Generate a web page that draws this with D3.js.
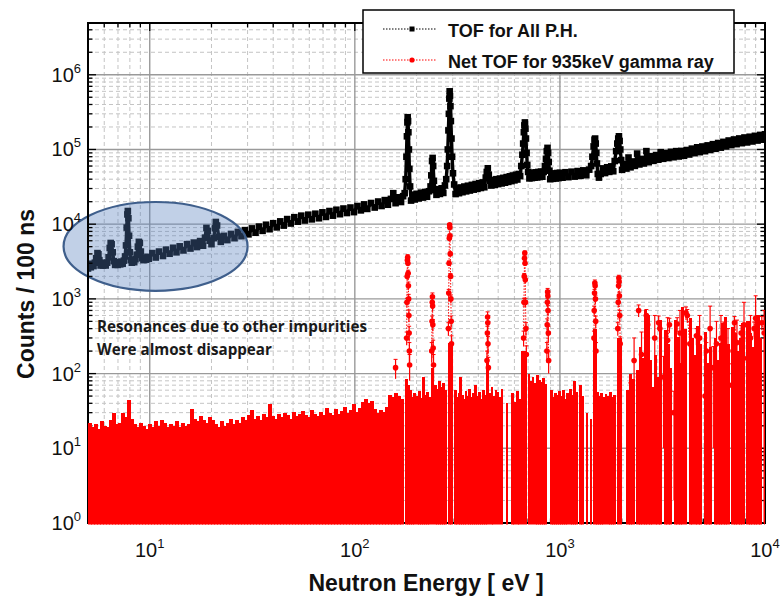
<!DOCTYPE html>
<html>
<head>
<meta charset="utf-8">
<script src="https://cdn.jsdelivr.net/npm/d3@7"></script>
<style>
  body { margin: 0; background: #fff; }
  svg { display: block; }
</style>
</head>
<body>
<svg id="chart" width="780" height="597"></svg>
<script>
// ---- Data -------------------------------------------------------------
// TOF spectrum for all pulse heights: [neutron energy (eV), counts / 100 ns]
const tofAll = [
  [5.0,2550],[5.08,2850],[5.16,2650],[5.24,2950],[5.32,2750],[5.4,3050],[5.48,3500],[5.56,4100],[5.62,3950],[5.68,3300],
  [5.76,2800],[5.84,3050],[5.92,2800],[6.0,3000],[6.1,2800],[6.2,3050],[6.3,3600],[6.38,4800],[6.45,5600],[6.52,5400],
  [6.6,4200],[6.68,3200],[6.78,2850],[6.88,3100],[6.98,2850],[7.08,3100],[7.18,2900],[7.28,3150],[7.38,2950],[7.48,3250],
  [7.58,3700],[7.66,5200],[7.72,9000],[7.78,13500],[7.82,15000],[7.87,12000],[7.93,7000],[8.0,4200],[8.08,3300],[8.18,3050],
  [8.28,3300],[8.4,3100],[8.52,3400],[8.64,3900],[8.75,5000],[8.85,5800],[8.95,5600],[9.05,4300],[9.18,3500],[9.32,3300],
  [9.46,3550],[9.6,3350],[9.75,3650],[9.9,3450],
  [10.3,4100],[10.7,3580],[11.1,4300],[11.6,3750],[12.0,4560],[12.5,4020],[13.0,4830],[13.5,4200],[14.0,5050],[14.6,4450],
  [15.2,5400],[15.8,4720],[16.4,5670],[17.0,4940],[17.6,5940],[18.2,5150],[18.6,6600],[18.9,8900],[19.2,8100],[19.6,6000],
  [20.0,5400],[20.5,6500],[20.8,8800],[21.0,10700],[21.3,9600],[21.7,6800],[22.2,5800],[23.0,6980],[23.9,6120],[24.9,7400],
  [25.9,6490],[26.9,7880],[28.0,6900],[29.1,8320],[30.3,7310],[31.5,8780],[32.8,7680],[34.1,9290],[35.5,8140],[36.9,9830],
  [38.4,8560],[40.0,10300],[41.6,9060],[43.3,10900],[45.0,9570],[46.8,11700],[48.7,10200],[50.7,12400],[52.7,10800],[54.8,13000],
  [57.0,11200],[59.3,13400],[61.7,11600],[64.2,13800],[66.8,12000],[69.5,14400],[72.3,12500],[75.2,15000],[78.2,13000],[81.3,15600],
  [84.6,13600],[88.0,16200],[91.5,14100],[95.2,16700],[99.0,14500],
  [103,17500],[107,15300],[111,18400],[115,16000],[120,19200],[125,16700],[130,20100],[135,17500],[140,21000],[145,18200],
  [150,21800],[154,26000],[158,19100],[163,22900],[168,19800],[172,23700],[175,26000],[177,40000],[178.5,80000],[179.5,150000],
  [180.5,230000],[181,270000],[181.8,240000],[182.5,170000],[183.5,100000],[184.5,55000],[186,32000],[188,20700],[192,24800],[196,21400],
  [200,25500],[205,22100],[210,26400],[215,22700],[220,27000],[225,23300],[230,27600],[234,32000],[236,45000],[238,70000],
  [239.5,77000],[241,60000],[243,38000],[246,28600],[250,24700],[255,29400],[260,25400],[265,30200],[270,26200],[275,33000],
  [279,40000],[282,60000],[284,100000],[286,180000],[287.5,300000],[289,480000],[290,600000],[291,520000],[292.5,380000],[294,240000],
  [296,140000],[298,80000],[301,48000],[305,34000],[310,25300],[316,30100],[322,26000],[328,31000],[335,26800],[342,31900],
  [349,27500],[356,32700],[364,28200],[372,33600],[380,29000],[388,34500],[396,29700],[404,35300],[412,30500],[420,36200],
  [428,31200],[435,42000],[440,50000],[445,56000],[450,46000],[455,38200],[463,32900],[472,39100],[481,33700],[490,40000],
  [500,34400],[510,40800],[520,35100],[530,41700],[540,35900],[550,42700],[560,36800],[570,43700],[580,37700],[590,44800],
  [600,38600],[610,45900],[620,39600],[630,47000],[640,44000],[648,60000],[656,85000],[662,120000],[667,170000],[671,210000],
  [675,230000],[679,190000],[683,140000],[688,90000],[693,62000],[700,50000],[710,41000],[720,48300],[730,41400],[741,48800],
  [752,41900],[763,49400],[774,42300],[785,50000],[797,42800],[809,50500],[821,43200],[833,50000],[845,60000],[855,75000],
  [863,95000],[870,105000],[876,90000],[882,68000],[889,52000],[897,40000],[910,47300],[925,40500],[940,47800],[955,40900],
  [970,48400],[985,41400],[1000,48800],
  [1030,41900],[1065,49600],[1100,42600],[1140,50400],[1180,43300],[1220,51400],[1260,44300],[1300,52500],[1345,45200],[1390,53700],
  [1420,60000],[1440,80000],[1460,110000],[1475,135000],[1485,140000],[1495,120000],[1505,90000],[1515,65000],[1530,47000],[1550,42000],
  [1580,47000],[1620,55800],[1660,48300],[1700,57800],[1740,50100],[1780,59400],[1820,51100],[1850,70000],[1880,95000],[1905,120000],
  [1925,140000],[1940,150000],[1955,130000],[1970,100000],[1990,72000],[2010,53400],[2060,63700],[2110,55500],[2160,78000],[2210,57700],
  [2260,69100],[2320,60300],[2380,88000],[2440,63000],[2500,74700],[2570,64900],[2640,95000],[2710,67600],[2780,81000],[2860,70400],
  [2940,84200],[3020,73000],[3100,92000],[3190,75000],[3280,89100],[3380,76800],[3480,93000],[3580,78700],[3690,95000],[3800,80500],
  [3910,95600],[4030,82300],[4150,98300],[4270,85600],[4400,102600],[4530,89200],[4670,106900],[4810,92000],[4950,109600],[5100,94800],
  [5250,113400],[5410,98400],[5570,117700],[5740,102100],[5910,122000],[6090,105800],[6270,126400],[6460,109900],[6650,131800],[6850,114500],
  [7060,136100],[7270,117800],[7490,140400],[7710,121400],[7940,144700],[8180,124200],[8420,148000],[8670,127900],[8930,152300],[9200,131600],
  [9480,156600],[9760,135200],[10000,159800]
];

// Net TOF for the 935 keV gamma ray, dense part: [bin start energy (eV), upper error edge]
// (0 = no positive content in that bin)
const netFill = [
  [5.0,22],[5.17,19],[5.35,21],[5.53,18],[5.72,23],[5.92,20],[6.12,19],[6.33,24],[6.55,30],[6.77,21],
  [7.0,22],[7.24,30],[7.49,26],[7.75,44],[8.01,25],[8.29,21],[8.57,19],[8.87,22],[9.17,20],[9.49,18],[9.81,21],
  [10.15,19],[10.5,23],[10.86,20],[11.23,24],[11.61,22],[12.01,19],[12.42,21],[12.85,20],[13.29,23],[13.74,19],
  [14.21,22],[14.7,20],[15.2,21],[15.72,34],[16.26,25],[16.82,23],[17.4,27],[18.0,24],[18.6,22],[19.25,26],[19.9,24],
  [20.6,21],[21.3,19],[22.0,23],[22.8,20],[23.6,22],[24.4,25],[25.2,21],[26.1,24],[27.0,22],[27.9,26],
  [28.9,24],[29.9,28],[30.9,33],[31.9,25],[33.0,27],[34.2,24],[35.3,29],[36.5,26],[37.8,39],[39.1,27],
  [40.4,25],[41.8,29],[43.3,26],[44.7,30],[46.3,28],[47.9,25],[49.5,31],[51.2,27],[53.0,29],[54.8,32],
  [56.6,28],[58.6,26],[60.6,33],[62.7,29],[64.8,27],[67.0,31],[69.3,28],[71.7,35],[74.2,30],[76.7,28],[79.3,34],
  [82.0,29],[84.8,32],[87.7,36],[90.8,30],[93.9,33],[97.1,39],[100.4,31],[103.8,35],[107.4,42],[111.1,45],
  [114.9,40],[118.8,43],[122.9,34],[127.1,30],[131.4,33],[135.9,31],[140.6,36],[145.4,52],[150.4,48],[155.5,55],
  [160.8,50],[166.3,46],[172.0,0],
  [176,85],[180,70],[184,60],[188,48],[193,55],[198,50],[203,58],[208,47],[213,90],[218,52],
  [223,56],[228,49],[233,0],[236,120],[242,70],[248,62],[254,80],[260,66],[266,75],[272,60],
  [280,0],[284,260],[292,240],[299,0],[305,60],[311,48],[317,55],[323,90],[330,52],[337,45],
  [344,58],[351,50],[358,62],[366,48],[374,55],[382,70],[390,50],[399,57],[408,46],[417,60],
  [427,52],[437,150],[449,55],[459,66],[469,50],[480,60],[491,56],[502,48],[514,62],[526,0],
  [548,40],[553,0],[580,55],[592,42],[605,0],[612,58],[625,45],[640,0],[648,200],[686,0],
  [697,100],[712,80],[728,90],[745,75],[762,95],[780,82],[798,78],[816,88],[836,72],[855,0],
  [892,60],[912,48],[933,55],[955,52],[977,58],[1000,50],[1023,60],[1047,46],[1071,55],[1096,0],
  [1110,62],[1136,52],[1162,80],[1190,56],[1218,0],[1240,70],[1270,50],[1300,0],[1340,30],[1360,0],
  [1400,25],[1420,0],[1450,400],[1505,57],[1540,50],[1576,55],[1613,48],[1650,53],[1690,50],[1730,56],
  [1770,49],[1810,52],[1850,0],[1900,300],[1990,0],
  [2047,0],[2105,60],[2165,100],[2227,85],[2290,0],[2355,110],[2422,225],[2491,160],[2562,700],[2635,600],
  [2710,150],[2787,66],[2866,180],[2948,90],[3032,520],[3118,0],[3207,380],[3298,250],[3392,120],[3489,0],
  [3588,520],[3690,310],[3795,140],[3903,780],[4014,400],[4129,0],[4246,560],[4367,300],[4491,180],[4619,430],
  [4751,250],[4886,0],[5025,360],[5168,140],[5315,225],[5467,0],[5622,300],[5782,150],[5947,260],[6116,470],
  [6291,570],[6470,250],[6654,0],[6843,420],[7038,350],[7239,200],[7445,300],[7657,480],[7875,0],[8099,500],
  [8330,350],[8567,230],[8811,420],[9062,600],[9320,300],[9585,0],[9858,520],[10000,0]
];

// Net TOF, individual points with error bars: [energy (eV), counts, error]
const netPoints = [
  [158,120,35],
  [179,300,60],[179.5,900,120],[180,2000,200],[180.5,3300,300],[181,3600,300],[181.5,3000,250],[182,2200,220],
  [182.5,1500,180],[183,1000,150],[183.5,600,110],[184,350,80],[184.5,200,60],[185,130,50],
  [237,200,60],[238,500,90],[238.5,900,120],[239,1070,130],[239.5,800,110],[240,450,80],[241,220,60],[242,130,50],
  [286,400,80],[287,1200,140],[288,3000,220],[289,6500,320],[290,9800,400],[290.5,9000,380],[291,7000,340],
  [292,4000,250],[293,2000,180],[294,1000,130],[295,500,90],[296,250,70],
  [441,150,50],[443,350,80],[444,570,100],[445,480,90],[446,250,65],[448,120,45],
  [665,300,70],[668,900,120],[670,2000,190],[672,3500,250],[674,4100,280],[676,3000,240],[678,1800,180],
  [680,900,120],[683,400,80],[686,180,55],
  [864,200,60],[867,450,90],[869,900,120],[871,1240,140],[873,1100,130],[875,700,110],[878,350,80],[881,150,50],
  [1465,300,70],[1470,700,100],[1475,1200,140],[1480,1630,160],[1485,1500,150],[1490,1000,120],[1495,500,90],[1500,200,60],
  [1760,20,15],
  [1915,400,80],[1925,900,120],[1932,1500,150],[1938,1900,170],[1944,1700,160],[1950,1100,130],[1958,600,100],[1968,250,60],
  [2200,40,35],[2300,150,150],[2420,700,130],[2500,180,180],[2600,60,50],[2640,600,120],[2680,450,100],[2900,300,300],
  [3030,480,110],[3070,400,100],[3200,90,80],[3350,280,280],[3420,450,100],[3600,30,28],[3730,460,100],[3850,350,350],
  [4120,650,130],[4180,600,120],[4300,250,250],[4400,110,100],[4630,320,80],[4800,300,300],[5100,50,45],[5180,200,60],
  [5400,400,400],[5600,120,110],[5800,250,250],[6100,300,300],[6300,400,90],[6600,200,200],[6900,70,65],[7100,480,100],
  [7300,260,260],[7650,350,90],[7900,450,450],[8200,160,140],[8500,300,300],[8850,400,90],[9000,550,550],[9300,90,85],
  [9650,480,100],[9900,350,350]
];

const xTickValues = [10, 100, 1000, 10000];
const yTickValues = [1, 10, 100, 1000, 1e4, 1e5, 1e6];
const seriesNames = ["TOF for All P.H.", "Net TOF for 935keV gamma ray"];
const noteLines = ["Resonances due to other impurities", "Were almost disappear"];
// Region circled in the low-energy part: energy range (eV) and count range
const highlightE = [3.8, 30];
const highlightC = [1280, 19800];

// ---- Layout -----------------------------------------------------------
const W = 780, H = 597;
const plot = { left: 88, right: 765, top: 23, bottom: 523 };
const x = d3.scaleLog().domain([5, 1e4]).range([plot.left, plot.right]);
const y = d3.scaleLog().domain([1, 4.93e6]).range([plot.bottom, plot.top]);
const RED = "#ff0000";
const tickFont = "'Liberation Sans', Arial, Helvetica, sans-serif";

const svg = d3.select("#chart");
svg.append("rect").attr("width", W).attr("height", H).attr("fill", "#fff");

const defs = svg.append("defs");
defs.append("clipPath").attr("id", "plotClip").append("rect")
  .attr("x", plot.left).attr("y", plot.top)
  .attr("width", plot.right - plot.left).attr("height", plot.bottom - plot.top);
defs.append("clipPath").attr("id", "redClip").append("rect")
  .attr("x", plot.left).attr("y", plot.top)
  .attr("width", plot.right - plot.left).attr("height", plot.bottom - plot.top + 1.5);

const isDecade = v => Math.abs(Math.log10(v) - Math.round(Math.log10(v))) < 1e-9;
const xAll = x.ticks();
const yAll = y.ticks();
const xMinor = xAll.filter(v => !isDecade(v));
const yMinor = yAll.filter(v => !isDecade(v));
const xMajor = xAll.filter(isDecade);
const yMajor = yAll.filter(isDecade);

// ---- Grid -------------------------------------------------------------
const grid = svg.append("g");
grid.selectAll("line.vx").data(xMinor).join("line")
  .attr("x1", d => x(d)).attr("x2", d => x(d))
  .attr("y1", plot.top).attr("y2", plot.bottom)
  .attr("stroke", "#c4c4c4").attr("stroke-width", 1).attr("stroke-dasharray", "4,3");
grid.selectAll("line.hy").data(yMinor).join("line")
  .attr("x1", plot.left).attr("x2", plot.right)
  .attr("y1", d => y(d)).attr("y2", d => y(d))
  .attr("stroke", "#c4c4c4").attr("stroke-width", 1).attr("stroke-dasharray", "4,3");
grid.selectAll("line.vX").data(xMajor.filter(v => v > 5 && v < 1e4)).join("line")
  .attr("x1", d => x(d)).attr("x2", d => x(d))
  .attr("y1", plot.top).attr("y2", plot.bottom)
  .attr("stroke", "#9a9a9a").attr("stroke-width", 1.4);
grid.selectAll("line.hY").data(yMajor.filter(v => v > 1)).join("line")
  .attr("x1", plot.left).attr("x2", plot.right)
  .attr("y1", d => y(d)).attr("y2", d => y(d))
  .attr("stroke", "#9a9a9a").attr("stroke-width", 1.4);

// ---- TOF for all pulse heights (black squares joined by a line) -------
const gBlack = svg.append("g").attr("clip-path", "url(#plotClip)");
gBlack.append("path").datum(tofAll)
  .attr("d", d3.line().x(d => x(d[0])).y(d => y(d[1])))
  .attr("fill", "none").attr("stroke", "#000").attr("stroke-width", 3.4)
  .attr("stroke-linejoin", "round");
const sq = 6.6;
gBlack.selectAll("rect").data(tofAll).join("rect")
  .attr("x", d => x(d[0]) - sq / 2).attr("y", d => y(d[1]) - sq / 2)
  .attr("width", sq).attr("height", sq).attr("fill", "#000");

// ---- Highlight ellipse ------------------------------------------------
const ex0 = x(highlightE[0]), ex1 = x(highlightE[1]);
const ey0 = y(highlightC[1]), ey1 = y(highlightC[0]);
svg.append("ellipse")
  .attr("cx", (ex0 + ex1) / 2).attr("cy", (ey0 + ey1) / 2)
  .attr("rx", (ex1 - ex0) / 2).attr("ry", (ey1 - ey0) / 2)
  .attr("fill", "rgba(82,124,188,0.36)")
  .attr("stroke", "#3f5f8c").attr("stroke-width", 2.2);

// ---- Frame and ticks --------------------------------------------------
const frame = svg.append("g").attr("stroke", "#000");
const tickLen = v => isDecade(v) ? 8 : 4.5;
frame.selectAll("line.tl").data(yAll).join("line")
  .attr("x1", plot.left).attr("x2", d => plot.left + tickLen(d))
  .attr("y1", d => y(d)).attr("y2", d => y(d)).attr("stroke-width", 1.3);
frame.selectAll("line.tr").data(yAll).join("line")
  .attr("x1", plot.right).attr("x2", d => plot.right - tickLen(d))
  .attr("y1", d => y(d)).attr("y2", d => y(d)).attr("stroke-width", 1.3);
frame.selectAll("line.tt").data(xAll).join("line")
  .attr("y1", plot.top).attr("y2", d => plot.top + tickLen(d))
  .attr("x1", d => x(d)).attr("x2", d => x(d)).attr("stroke-width", 1.3);
frame.selectAll("line.tb").data(xAll).join("line")
  .attr("y1", plot.bottom).attr("y2", d => plot.bottom - tickLen(d))
  .attr("x1", d => x(d)).attr("x2", d => x(d)).attr("stroke-width", 1.3);
frame.append("rect")
  .attr("x", plot.left).attr("y", plot.top)
  .attr("width", plot.right - plot.left).attr("height", plot.bottom - plot.top)
  .attr("fill", "none").attr("stroke-width", 2);

// ---- Net TOF (red) ----------------------------------------------------
const gRed = svg.append("g").attr("clip-path", "url(#redClip)");
const base = y(1) + 1.5;
gRed.selectAll("rect").data(d3.pairs(netFill).filter(p => p[0][1] > 1)).join("rect")
  .attr("shape-rendering", "crispEdges")
  .attr("x", p => x(p[0][0]))
  .attr("width", p => Math.max(1, x(p[1][0]) - x(p[0][0]) + 0.8))
  .attr("y", p => y(p[0][1]))
  .attr("height", p => base - y(p[0][1]))
  .attr("fill", RED);

// dotted connectors within each resonance group
const groups = [];
netPoints.forEach((d, i) => {
  if (i === 0 || d[0] / netPoints[i - 1][0] > 1.03) groups.push([]);
  groups[groups.length - 1].push(d);
});
gRed.selectAll("path.conn").data(groups.filter(g => g.length > 1)).join("path")
  .attr("d", d3.line().x(d => x(d[0])).y(d => y(d[1])))
  .attr("fill", "none").attr("stroke", RED).attr("stroke-width", 1)
  .attr("stroke-dasharray", "1.5,1.5");
gRed.selectAll("line.err").data(netPoints).join("line")
  .attr("x1", d => x(d[0])).attr("x2", d => x(d[0]))
  .attr("y1", d => y(Math.max(1, d[1] - d[2]))).attr("y2", d => y(d[1] + d[2]))
  .attr("stroke", RED).attr("stroke-width", 1.2);
gRed.selectAll("line.cap").data(netPoints).join("line")
  .attr("x1", d => x(d[0]) - 2).attr("x2", d => x(d[0]) + 2)
  .attr("y1", d => y(d[1] + d[2])).attr("y2", d => y(d[1] + d[2]))
  .attr("stroke", RED).attr("stroke-width", 1);
gRed.selectAll("circle").data(netPoints).join("circle")
  .attr("cx", d => x(d[0])).attr("cy", d => y(d[1])).attr("r", 2.8)
  .attr("fill", RED);

// ---- Tick labels ------------------------------------------------------
const yLab = svg.append("g").attr("font-family", tickFont).attr("fill", "#111");
yTickValues.forEach(v => {
  const t = yLab.append("text").attr("x", 81).attr("y", y(v) + 7)
    .attr("text-anchor", "end").attr("font-size", 20);
  t.append("tspan").text("10");
  t.append("tspan").attr("dy", -9).attr("font-size", 13).text(Math.round(Math.log10(v)));
});
const xLab = svg.append("g").attr("font-family", tickFont).attr("fill", "#111");
xTickValues.forEach(v => {
  const t = xLab.append("text").attr("x", x(v)).attr("y", 557)
    .attr("text-anchor", "middle").attr("font-size", 20);
  t.append("tspan").text("10");
  t.append("tspan").attr("dy", -9).attr("font-size", 13).text(Math.round(Math.log10(v)));
});

// ---- Axis titles ------------------------------------------------------
svg.append("text")
  .attr("transform", "translate(34,294) rotate(-90)")
  .attr("text-anchor", "middle")
  .attr("font-family", tickFont).attr("font-weight", "bold").attr("font-size", 23)
  .attr("fill", "#111").text("Counts / 100 ns");
svg.append("text")
  .attr("x", 426).attr("y", 591)
  .attr("text-anchor", "middle")
  .attr("font-family", tickFont).attr("font-weight", "bold").attr("font-size", 23)
  .attr("fill", "#111").text("Neutron Energy [ eV ]");

// ---- Note -------------------------------------------------------------
const note = svg.append("g").attr("font-family", "'Open Sans', Lato, sans-serif")
  .attr("font-weight", 700).attr("font-size", 15.2).attr("fill", "#1a1a1a");
noteLines.forEach((s, i) => {
  note.append("text").attr("x", 97).attr("y", 332 + i * 23).text(s);
});

// ---- Legend -----------------------------------------------------------
const lg = svg.append("g");
lg.append("rect").attr("x", 363).attr("y", 10).attr("width", 371).attr("height", 63)
  .attr("fill", "#fff").attr("stroke", "#000").attr("stroke-width", 1.5);
const legendRows = [
  { name: seriesNames[0], color: "#000", shape: "square", yy: 29 },
  { name: seriesNames[1], color: RED, shape: "circle", yy: 60 }
];
legendRows.forEach(r => {
  lg.append("line").attr("x1", 383).attr("x2", 437).attr("y1", r.yy).attr("y2", r.yy)
    .attr("stroke", r.color).attr("stroke-width", 1).attr("stroke-dasharray", "1.5,1.5");
  if (r.shape === "square") {
    lg.append("rect").attr("x", 409.5).attr("y", r.yy - 2.5).attr("width", 5).attr("height", 5).attr("fill", r.color);
  } else {
    lg.append("circle").attr("cx", 412).attr("cy", r.yy).attr("r", 2.6).attr("fill", r.color);
  }
  lg.append("text").attr("x", 448).attr("y", r.yy + 8)
    .attr("font-family", tickFont).attr("font-weight", "bold").attr("font-size", 18)
    .attr("fill", "#111").text(r.name);
});
</script>
</body>
</html>
